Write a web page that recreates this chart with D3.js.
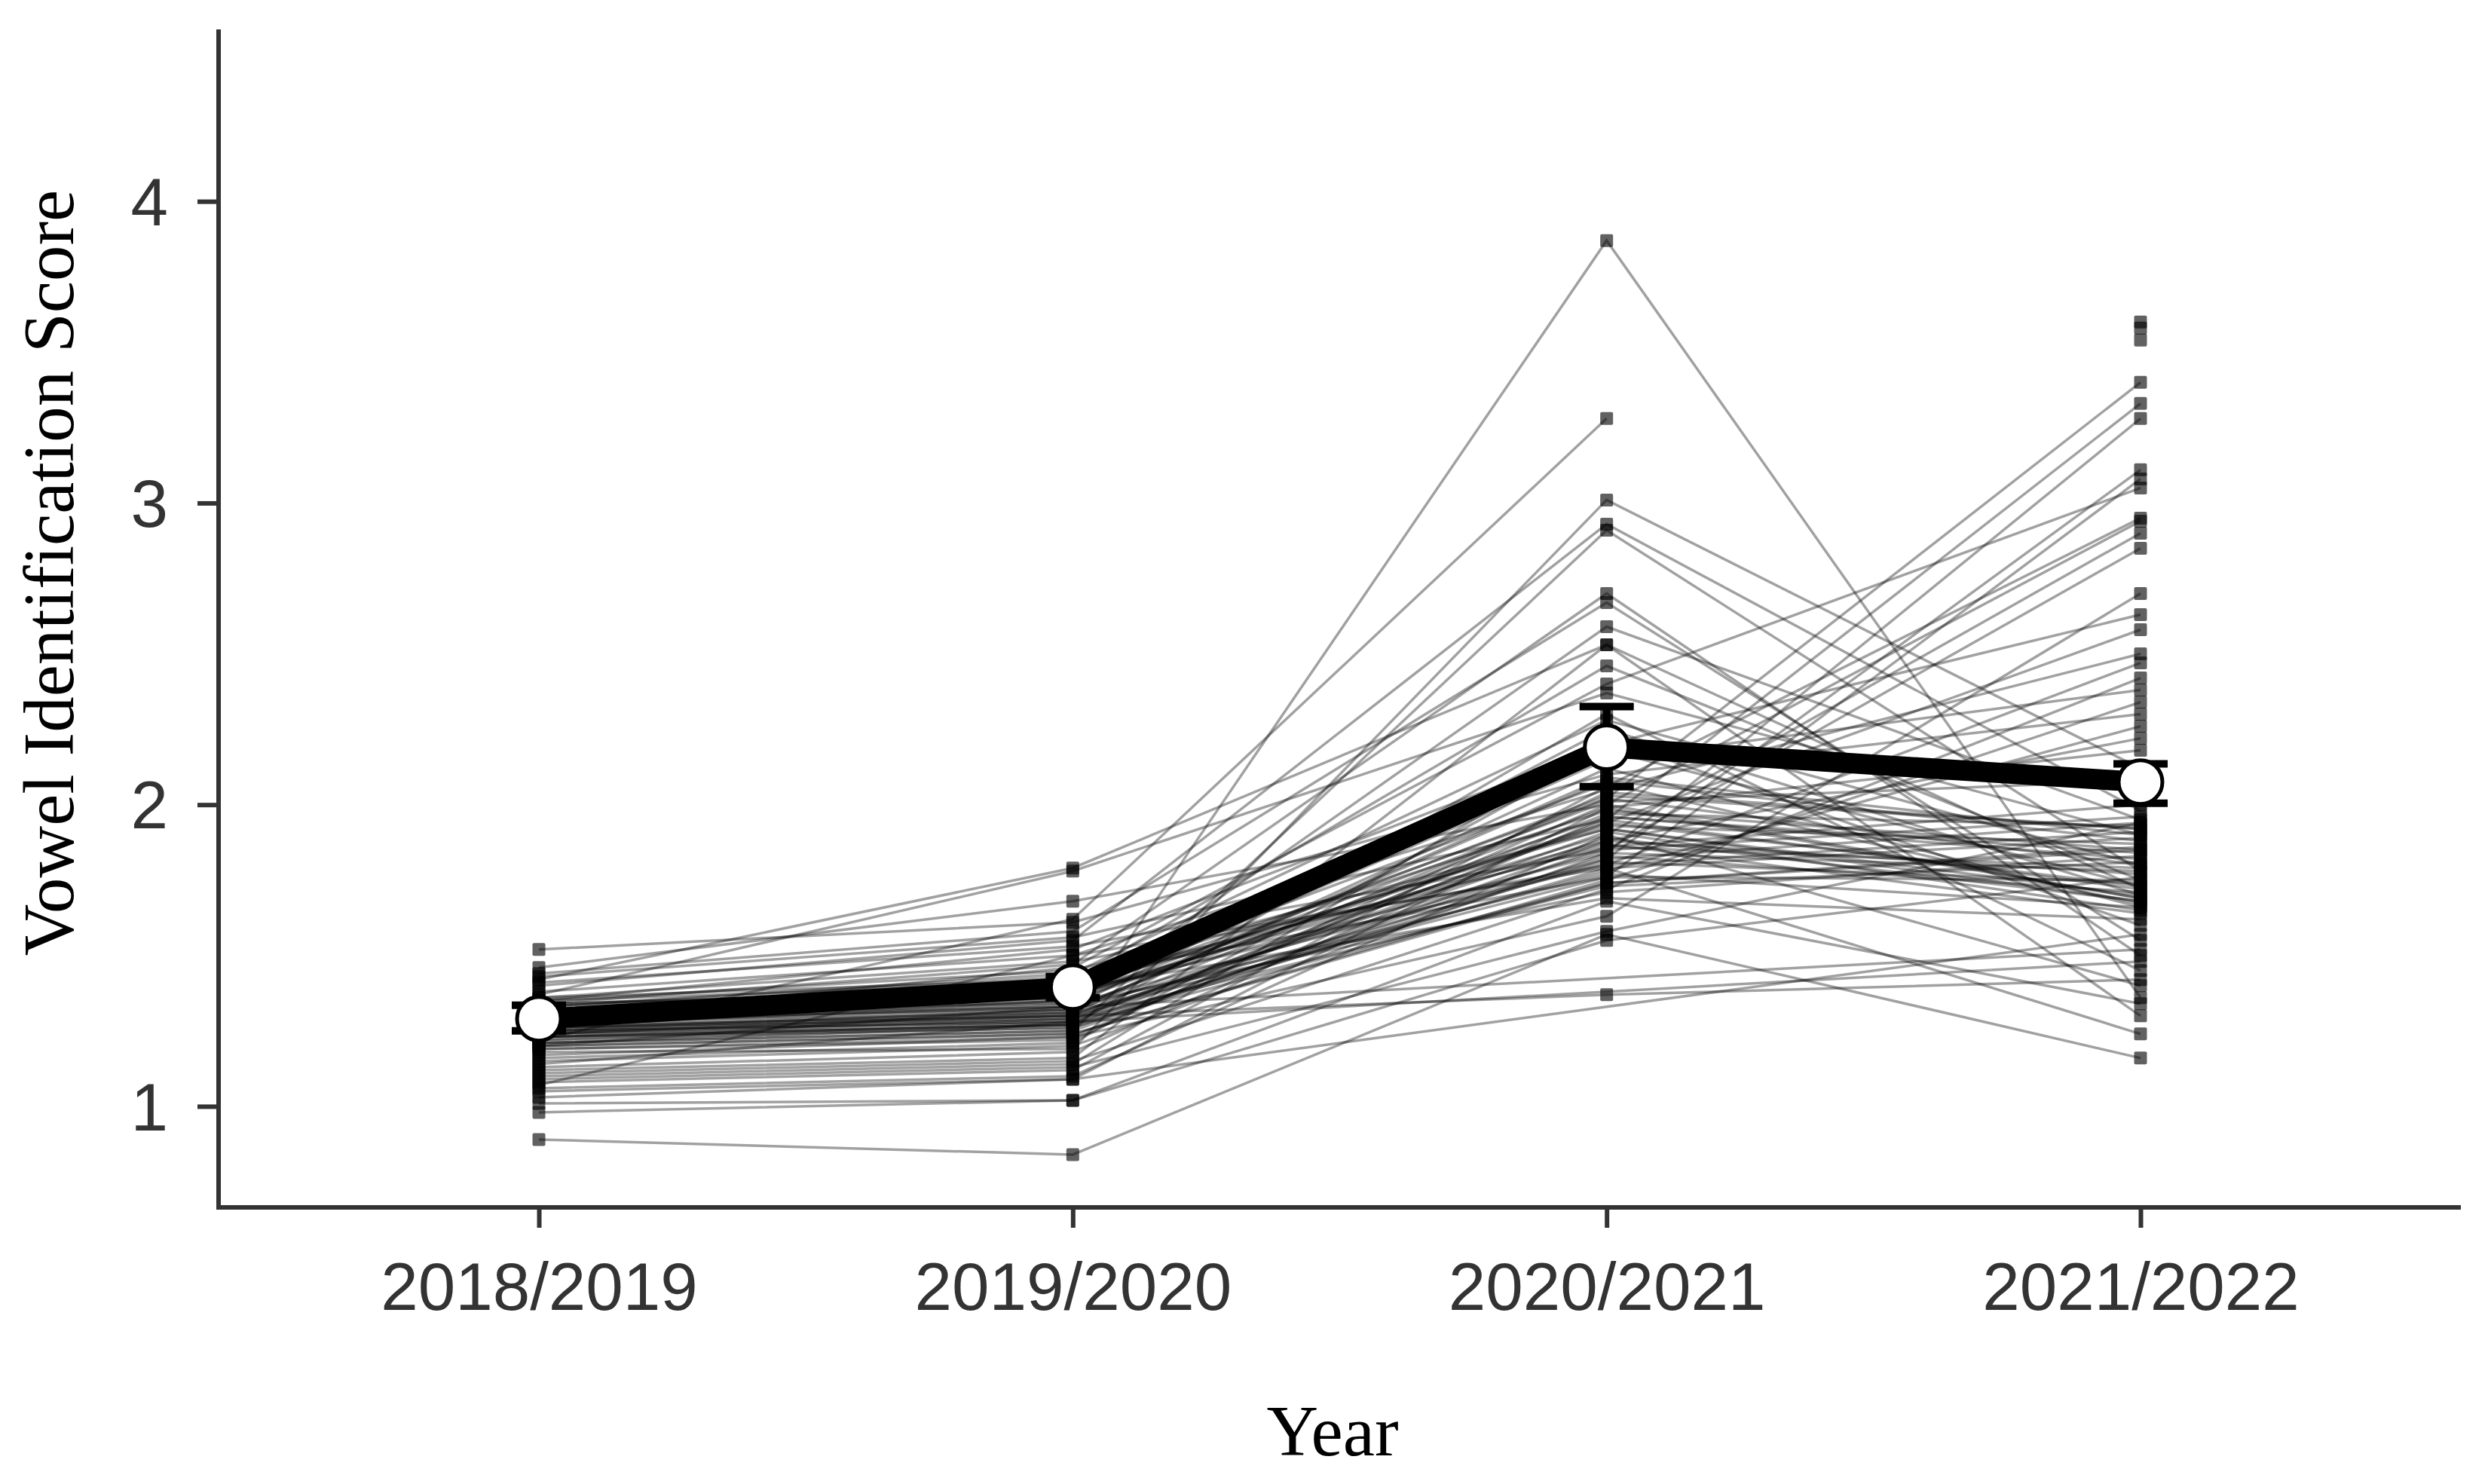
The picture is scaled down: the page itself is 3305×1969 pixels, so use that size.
<!DOCTYPE html>
<html>
<head>
<meta charset="utf-8">
<script src="https://cdn.jsdelivr.net/npm/d3@7"></script>
<style>
  body { margin: 0; background: #fff; }
</style>
</head>
<body>
<script>
// categories
var years = ['2018/2019', '2019/2020', '2020/2021', '2021/2022'];

// one score per subject and year (null = not tested that year)
var s2018 = [1.52, 1.46, 1.44, 1.43, 1.42, 1.41, 1.40, 1.38, 1.37, 1.36, 1.35, 1.35, 1.34, 1.33, 1.33, 1.32, 1.31, 1.31, 1.30, 1.30,
             1.29, 1.28, 1.28, 1.27, 1.27, 1.26, 1.25, 1.25, 1.24, 1.24, 1.23, 1.22, 1.22, 1.21, 1.20, 1.20, 1.19, 1.18, 1.17, 1.16,
             1.15, 1.14, 1.13, 1.12, 1.11, 1.10, 1.09, 1.08, 1.07, 1.06, 1.05, 1.03, 1.01, 0.98, 0.89, 1.29, 1.32, 1.26, 1.30, 1.23,
             1.33, 1.31, 1.29, 1.28, 1.27, 1.26, 1.25, 1.24, 1.23, 1.22, 1.21, 1.34,
             1.36, 1.35, 1.34, 1.32, 1.31, 1.30, 1.29, 1.28, 1.27, 1.26, 1.25, 1.24, 1.23, 1.21, 1.20, 1.19,
             null, null, null];
var s2019 = [1.61, 1.68, 1.58, 1.56, 1.79, 1.53, 1.55, 1.50, 1.78, 1.48, 1.52, 1.45, 1.47, 1.43, 1.44, 1.40, 1.42, 1.38, 1.41, 1.36,
             1.39, 1.35, 1.37, 1.33, 1.34, 1.32, 1.28, 1.30, 1.31, 1.29, 1.27, 1.26, 1.62, 1.25, 1.24, 1.33, 1.22, 1.19, 1.23, 1.21,
             1.20, 1.28, 1.18, 1.16, 1.15, 1.14, 1.13, 1.12, 1.50, 1.10, 1.09, 1.09, 1.02, 1.02, 0.84, 1.46, 1.38, 1.30, 1.35, 1.27,
             1.40, 1.37, 1.36, 1.33, 1.35, 1.31, 1.32, 1.30, 1.29, 1.28, 1.27, 1.39,
             1.42, 1.41, 1.38, 1.36, 1.34, 1.33, 1.32, 1.31, 1.30, 1.29, 1.28, 1.27, 1.26, 1.25, 1.24, 1.23,
             null, null, null];
var s2020 = [2.10, 2.00, 2.67, 1.95, 2.53, 1.85, 2.93, 2.05, 2.37, 1.80, 2.20, 1.92, 2.70, 1.76, 2.28, 1.88, 2.46, 2.02, 1.98, 2.15,
             1.69, 2.59, 1.90, 2.25, 1.82, 2.08, 3.87, 1.78, 2.12, 1.94, 2.30, 1.86, 3.28, 2.91, 1.75, null, 2.04, 3.01, 1.63, 2.18,
             1.84, null, 1.96, 2.53, 1.72, 2.22, 1.58, 2.06, 1.79, 1.90, null, 1.99, 1.55, 1.68, 1.57, 2.40, 1.87, 1.37, 2.01, 1.74,
             1.92, 1.84, 2.03, 1.77, 1.96, 1.81, 2.09, 1.89, 1.73, 1.97, 1.83, 1.93,
             1.86, 2.07, 1.80, 1.94, 1.71, 1.99, 1.85, 1.76, 2.02, 1.91, 1.79, 1.95, 1.82, 1.88, 1.74, 2.00,
             null, null, null];
var s2021 = [2.30, 2.94, 1.55, 3.33, 1.72, 2.85, 1.98, 2.50, 1.90, 2.47, 2.63, 1.68, 1.50, 3.08, 1.80, 2.22, 1.75, 3.40, 1.85, 2.38,
             1.62, 1.95, 2.90, 1.70, 3.11, 1.88, 1.36, 2.26, 1.66, 2.58, 1.45, 2.00, null, 1.78, 2.34, 1.52, 1.92, 2.12, 2.70, 1.73,
             3.28, 1.48, 1.82, 1.30, 2.42, 1.60, 1.94, 2.95, 1.24, 1.40, 1.57, 2.18, 1.76, 1.34, 1.16, 3.05, 1.64, 1.42, 2.08, 1.86,
             1.70, 1.78, 1.92, 1.66, 1.84, 1.74, 1.90, 1.68, 1.81, 1.93, 1.71, 1.87,
             1.79, 1.67, 1.91, 1.73, 1.83, 1.69, 1.96, 1.75, 1.80, 1.65, 1.89, 1.72, 1.94, 1.77, 1.85, 1.69,
             3.60, 3.58, 3.54];

// group mean and error bar per year
var meanScore = [1.29, 1.395, 2.19, 2.075];
var ciLow     = [1.25, 1.36, 2.06, 2.005];
var ciHigh    = [1.335, 1.43, 2.325, 2.135];

// tick labels
var yTicks = [1, 2, 3, 4];

// init
var width  = 3305,
    height = 1969,
    panel  = { left: 290, right: 3265, top: 39, bottom: 1602 };

var xScale = d3.scalePoint()
    .domain(years)
    .range([panel.left, panel.right])
    .padding(0.6);

var yScale = d3.scaleLinear()
    .domain([0.665, 4.57])
    .range([panel.bottom, panel.top]);

var svg = d3.select('body')
    .append('svg')
    .attr('width', width)
    .attr('height', height);

// subjects as rows of {year, value}
var subjects = s2018.map(function (d, i) {
    return [s2018[i], s2019[i], s2020[i], s2021[i]]
        .map(function (v, j) { return { year: years[j], value: v }; })
        .filter(function (p) { return p.value !== null; });
});

var line = d3.line()
    .x(function (d) { return xScale(d.year); })
    .y(function (d) { return yScale(d.value); });

/**
 * draw subject lines and points
 */
function drawSubjects() {
    svg.append('g')
        .selectAll('path')
        .data(subjects.filter(function (s) { return s.length > 1; }))
        .join('path')
        .attr('d', line)
        .attr('fill', 'none')
        .attr('stroke', '#000')
        .attr('stroke-opacity', 0.37)
        .attr('stroke-width', 3.5);

    var pts = [];
    subjects.forEach(function (s) { pts = pts.concat(s); });

    svg.append('g')
        .selectAll('rect')
        .data(pts)
        .join('rect')
        .attr('x', function (d) { return xScale(d.year) - 8.5; })
        .attr('y', function (d) { return yScale(d.value) - 8.5; })
        .attr('width', 17)
        .attr('height', 17)
        .attr('rx', 2)
        .attr('fill', '#000')
        .attr('fill-opacity', 0.62);
}

/**
 * draw mean line, error bars and mean points
 */
function drawMeans() {
    var means = years.map(function (y, i) {
        return { year: y, value: meanScore[i], lo: ciLow[i], hi: ciHigh[i] };
    });

    var bars = svg.append('g')
        .attr('stroke', '#000')
        .attr('stroke-width', 10);

    bars.selectAll('line.stem')
        .data(means)
        .join('line')
        .attr('class', 'stem')
        .attr('x1', function (d) { return xScale(d.year); })
        .attr('x2', function (d) { return xScale(d.year); })
        .attr('y1', function (d) { return yScale(d.lo); })
        .attr('y2', function (d) { return yScale(d.hi); });

    ['lo', 'hi'].forEach(function (k) {
        bars.selectAll('line.cap-' + k)
            .data(means)
            .join('line')
            .attr('class', 'cap-' + k)
            .attr('x1', function (d) { return xScale(d.year) - 36; })
            .attr('x2', function (d) { return xScale(d.year) + 36; })
            .attr('y1', function (d) { return yScale(d[k]); })
            .attr('y2', function (d) { return yScale(d[k]); });
    });

    svg.append('path')
        .datum(means)
        .attr('d', line)
        .attr('fill', 'none')
        .attr('stroke', '#000')
        .attr('stroke-width', 27)
        .attr('stroke-linejoin', 'round');

    svg.append('g')
        .selectAll('circle')
        .data(means)
        .join('circle')
        .attr('cx', function (d) { return xScale(d.year); })
        .attr('cy', function (d) { return yScale(d.value); })
        .attr('r', 29)
        .attr('fill', '#fff')
        .attr('stroke', '#000')
        .attr('stroke-width', 5);
}

/**
 * draw axes and titles
 */
function drawAxes() {
    var xAxis = svg.append('g')
        .attr('transform', 'translate(0,' + panel.bottom + ')')
        .call(d3.axisBottom(xScale).tickSize(27).tickPadding(46).tickSizeOuter(0));

    var yAxis = svg.append('g')
        .attr('transform', 'translate(' + panel.left + ',0)')
        .call(d3.axisLeft(yScale).tickValues(yTicks).tickFormat(d3.format('d'))
            .tickSize(28).tickPadding(39).tickSizeOuter(0));

    [xAxis, yAxis].forEach(function (g) {
        g.select('.domain').attr('stroke', '#333').attr('stroke-width', 6);
        g.selectAll('.tick line').attr('stroke', '#333').attr('stroke-width', 6);
        g.selectAll('.tick text')
            .attr('fill', '#333')
            .style('font-family', '"Liberation Sans", Arial, sans-serif')
            .style('font-size', '89px');
    });
    yAxis.selectAll('.tick text').attr('dy', '0.35em');
    // make the two axis lines meet at the corner
    yAxis.select('.domain').attr('d', 'M0,' + panel.top + 'V' + (panel.bottom + 3));
    xAxis.select('.domain').attr('d', 'M' + (panel.left - 3) + ',0H' + panel.right);

    svg.append('text')
        .attr('x', 1768)
        .attr('y', 1931)
        .attr('text-anchor', 'middle')
        .style('font-family', '"Liberation Serif", "Times New Roman", serif')
        .style('font-size', '95px')
        .text('Year');

    svg.append('text')
        .attr('transform', 'translate(97,760) rotate(-90)')
        .attr('text-anchor', 'middle')
        .style('font-family', '"Liberation Serif", "Times New Roman", serif')
        .style('font-size', '95px')
        .text('Vowel Identification Score');
}

drawSubjects();
drawMeans();
drawAxes();
</script>
</body>
</html>
